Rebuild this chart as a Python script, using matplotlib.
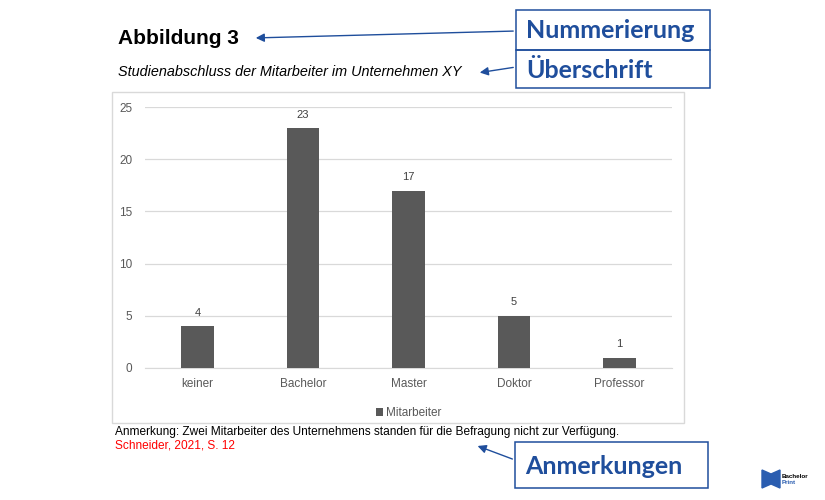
import matplotlib.pyplot as plt
import matplotlib.patches as mpatches
import numpy as np

plt.rcParams['font.family'] = ['Liberation Sans', 'DejaVu Sans']

# data
categories = ['keiner', 'Bachelor', 'Master', 'Doktor', 'Professor']
mitarbeiter = [4, 23, 17, 5, 1]
y_ticks = [0, 5, 10, 15, 20, 25]

W, H = 825, 500
BLUE = '#1f4e9c'
GRAY_TXT = '#595959'

fig = plt.figure(figsize=(W / 100, H / 100), dpi=100, facecolor='white')


def fx(px):
	return px / W


def fy(py):
	return 1 - py / H


# chart frame (light gray border of the embedded chart)
frame = mpatches.Rectangle((fx(112), fy(423)), fx(684) - fx(112), fy(92) - fy(423),
						   transform=fig.transFigure, fill=False, edgecolor='#d9d9d9', lw=1)
fig.patches.append(frame)

ax = fig.add_axes([fx(145), fy(368), fx(672) - fx(145), fy(107) - fy(368)])
x = np.arange(len(categories))
bars = ax.bar(x, mitarbeiter, width=0.31, color='#595959', label='Mitarbeiter', zorder=3)
ax.set_xlim(-0.5, len(categories) - 0.5)
ax.set_ylim(0, 25)
ax.set_yticks(y_ticks)
ax.set_xticks(x)
ax.set_xticklabels(categories)
ax.tick_params(axis='both', length=0, colors=GRAY_TXT, labelsize=8.5)
ax.tick_params(axis='y', pad=9)
ax.tick_params(axis='x', pad=7)
ax.yaxis.grid(True, color='#d9d9d9', lw=0.9, zorder=0)
for s in ['top', 'right', 'left']:
	ax.spines[s].set_visible(False)
ax.spines['bottom'].set_color('#d9d9d9')
ax.bar_label(bars, padding=6, fontsize=8, color='#404040')

leg = ax.legend(loc='upper center', bbox_to_anchor=(0.5, -0.11), frameon=False,
				fontsize=8.5, handlelength=0.6, handleheight=0.6, handletextpad=0.3)
for t in leg.get_texts():
	t.set_color(GRAY_TXT)

# titles
fig.text(fx(118), fy(38), 'Abbildung 3', fontsize=15, fontweight='bold', va='center', ha='left')
fig.text(fx(118), fy(72), 'Studienabschluss der Mitarbeiter im Unternehmen XY', fontsize=10.4,
		 style='italic', va='center', ha='left')

# notes
fig.text(fx(115), fy(432), 'Anmerkung: Zwei Mitarbeiter des Unternehmens standen für die Befragung nicht zur Verfügung.',
		 fontsize=8.6, va='center', ha='left')
fig.text(fx(115), fy(446), 'Schneider, 2021, S. 12', fontsize=8.6, color='#ff0000', va='center', ha='left')

# label boxes
boxes = [
	(516, 10, 710, 50, 'Nummerierung'),
	(516, 50, 710, 88, 'Überschrift'),
	(515, 442, 708, 488, 'Anmerkungen'),
]
for x0, y0, x1, y1, label in boxes:
	r = mpatches.Rectangle((fx(x0), fy(y1)), fx(x1) - fx(x0), fy(y0) - fy(y1),
						   transform=fig.transFigure, fill=False, edgecolor=BLUE, lw=1.1)
	fig.patches.append(r)
	fig.text(fx(x0 + 10), fy((y0 + y1) / 2 + 1), label, fontsize=18, fontweight='bold', color=BLUE,
			 family=['Lato', 'DejaVu Sans'], va='center', ha='left')

# arrows
arrows = [((516, 31), (253, 38)), ((516, 67), (477, 73)), ((515, 460), (475, 445))]
for (sx, sy), (ex, ey) in arrows:
	fig.add_artist(mpatches.FancyArrowPatch((fx(sx), fy(sy)), (fx(ex), fy(ey)), transform=fig.transFigure,
											arrowstyle='-|>,head_length=5,head_width=2.5', color=BLUE, lw=1))

# small logo
logo = mpatches.Polygon([(fx(762), fy(470)), (fx(762), fy(488)), (fx(771), fy(484)), (fx(780), fy(488)),
						 (fx(780), fy(470)), (fx(771), fy(474))], closed=True, transform=fig.transFigure,
						color='#2a5db0')
fig.patches.append(logo)
fig.text(fx(782), fy(476), 'Bachelor', fontsize=4.5, fontweight='bold', va='center', ha='left')
fig.text(fx(782), fy(482), 'Print', fontsize=4.5, fontweight='bold', color='#2a5db0', va='center', ha='left')

fig.savefig('out.png', dpi=100, facecolor='white')
